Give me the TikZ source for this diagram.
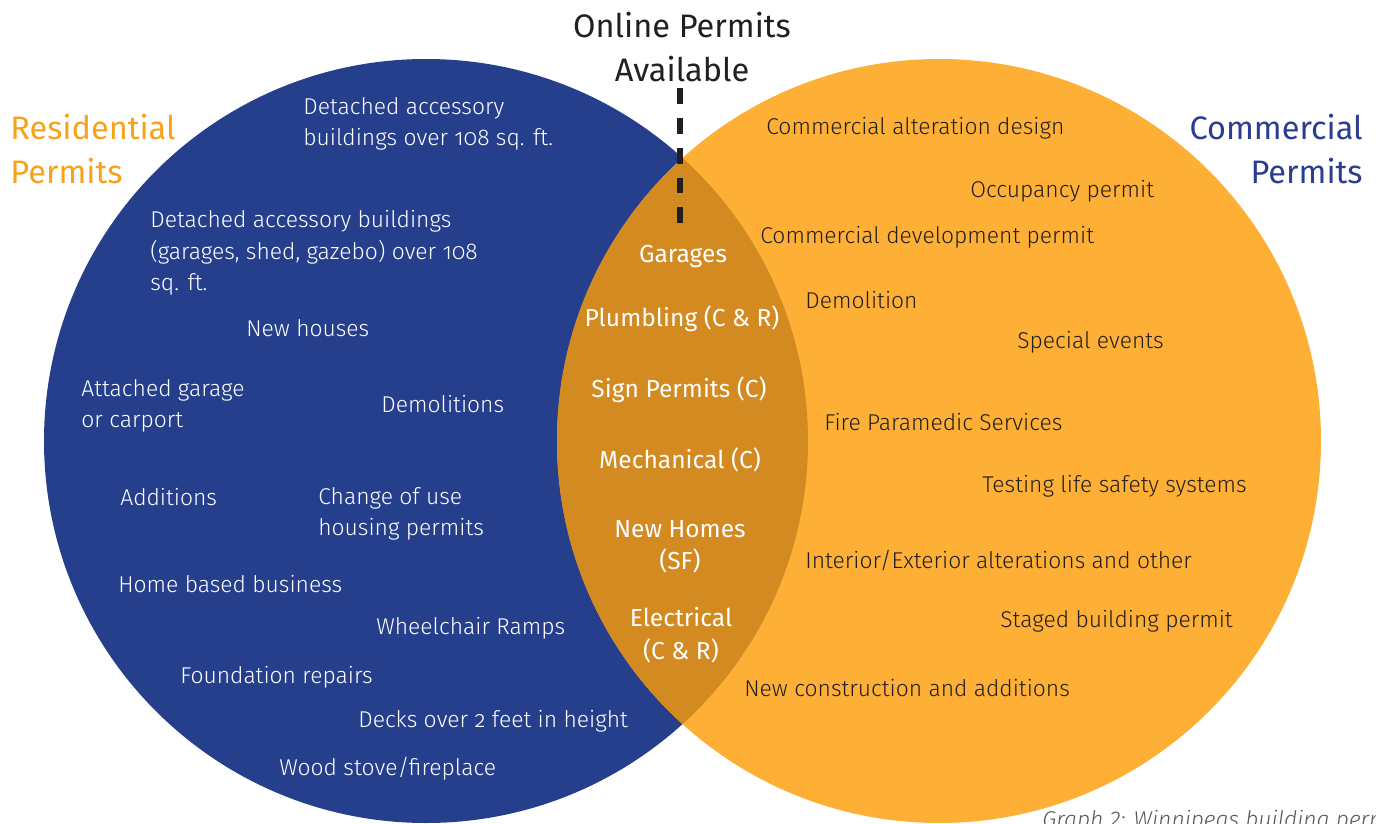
\documentclass[tikz,border=0pt]{standalone}
\usepackage{fontspec}
\setmainfont{Fira Sans Light}[Numbers=OldStyle]
\newfontfamily\headfont{Fira Sans}
\newfontfamily\lensfont{Fira Sans}[Numbers=OldStyle]
\newfontfamily\capfont{Fira Sans Light Italic}
\definecolor{resblue}{HTML}{263F8D}
\definecolor{comorange}{HTML}{FDB035}
\definecolor{lensorange}{HTML}{D28A21}
\definecolor{textdark}{HTML}{231F20}
\definecolor{headorange}{HTML}{F7A21B}
\definecolor{headblue}{HTML}{2B3D8F}
\begin{document}
\begin{tikzpicture}[x=0.02cm,y=-0.02cm,
	item/.style={anchor=west,align=left,inner sep=0pt,font=\fontsize{13}{18}\selectfont},
	resitem/.style={item,text=white},
	comitem/.style={item,text=textdark},
	lensitem/.style={align=center,inner sep=0pt,text=white,font=\lensfont\fontsize{14}{18.5}\selectfont},
	heading/.style={inner sep=0pt,font=\headfont\fontsize{18.5}{25}\selectfont},
	dashline/.style={line width=3.4pt,dash pattern=on 9pt off 8pt}
	]
	\useasboundingbox (0,0) rectangle (1376,824);
	\def\rad{382}
	\coordinate (cres) at (426,441);
	\coordinate (ccom) at (939,441);
	
	% the two sets and their overlap
	\fill[resblue] (cres) circle[radius=\rad];
	\fill[comorange] (ccom) circle[radius=\rad];
	\begin{scope}
	\clip (cres) circle[radius=\rad];
	\fill[lensorange] (ccom) circle[radius=\rad];
	\end{scope}
	
	% headings
	\node[heading,text=textdark,align=center] (online) at (682,47) {Online Permits\\Available};
	\node[heading,text=headorange,align=left,anchor=west] (reshead) at (10,149) {Residential\\Permits};
	\node[heading,text=headblue,align=right,anchor=east] (comhead) at (1363,149) {Commercial\\Permits};
	
	\coordinate (dashtop) at (680,88);
	\coordinate (dashend) at (680,223);
	\draw[dashline,textdark] (dashtop) -- (dashend);
	
	% residential only
	\node[resitem] (r1) at (303,124) {Detached accessory\\buildings over 108 sq. ft.};
	\node[resitem] (r2) at (150,253) {Detached accessory buildings\\(garages, shed, gazebo) over 108\\sq. ft.};
	\node[resitem] (r3) at (246,328) {New houses};
	\node[resitem] (r4) at (81,406) {Attached garage\\or carport};
	\node[resitem] (r5) at (381,404) {Demolitions};
	\node[resitem] (r6) at (120,497) {Additions};
	\node[resitem] (r7) at (318,514) {Change of use\\housing permits};
	\node[resitem] (r8) at (118,584) {Home based business};
	\node[resitem] (r9) at (376,628) {Wheelchair Ramps};
	\node[resitem] (r10) at (180,677) {Foundation repairs};
	\node[resitem] (r11) at (358,721) {Decks over 2 feet in height};
	\node[resitem] (r12) at (279,769) {Wood stove/fireplace};
	
	% commercial only
	\node[comitem] (c1) at (766,128) {Commercial alteration design};
	\node[comitem] (c2) at (970,191) {Occupancy permit};
	\node[comitem] (c3) at (760,237) {Commercial development permit};
	\node[comitem] (c4) at (805,300) {Demolition};
	\node[comitem] (c5) at (1017,342) {Special events};
	\node[comitem] (c6) at (824,422) {Fire Paramedic Services};
	\node[comitem] (c7) at (982,486) {Testing life safety systems};
	\node[comitem] (c8) at (805,560) {Interior/Exterior alterations and other};
	\node[comitem] (c9) at (1000,621) {Staged building permit};
	\node[comitem] (c10) at (744,688) {New construction and additions};
	
	% both
	\node[lensitem] (b1) at (683,256) {Garages};
	\node[lensitem] (b2) at (682,319) {Plumbling (C \& R)};
	\node[lensitem] (b3) at (679,390) {Sign Permits (C)};
	\node[lensitem] (b4) at (680,460) {Mechanical (C)};
	\node[lensitem] (b5) at (680,547) {New Homes\\(SF)};
	\node[lensitem] (b6) at (681,635) {Electrical\\(C \& R)};
	
	\node[inner sep=0pt,anchor=north west,text=black!65,font=\capfont\fontsize{13}{14}\selectfont] (caption) at (1042,810) {Graph 2: Winnipegs building permits};
\end{tikzpicture}
\end{document}
